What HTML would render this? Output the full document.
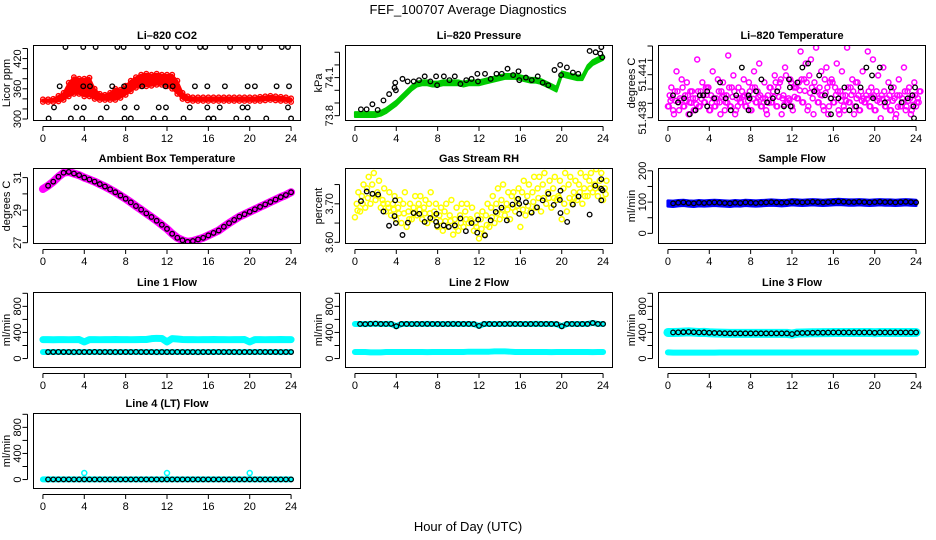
<!DOCTYPE html>
<html><head><meta charset="utf-8"><title>FEF_100707 Average Diagnostics</title>
<style>
html,body{margin:0;padding:0;background:#fff;}
svg{display:block;font-family:"Liberation Sans",Arial,sans-serif;}
</style></head>
<body>
<svg id="chart" width="936" height="540" viewBox="0 0 936 540" xmlns="http://www.w3.org/2000/svg">
<rect x="0" y="0" width="936" height="540" fill="#fff"/>
<text x="468" y="14" font-size="13" text-anchor="middle">FEF_100707  Average Diagnostics</text>
<text x="468" y="531" font-size="13" text-anchor="middle">Hour of Day (UTC)</text>
</svg>
<script>
// ---------- data ----------
const hourGrid = [0,0.5,1,1.5,2,2.5,3,3.5,4,4.5,5,5.5,6,6.5,7,7.5,8,8.5,9,9.5,10,10.5,11,11.5,12,12.5,13,13.5,14,14.5,15,15.5,16,16.5,17,17.5,18,18.5,19,19.5,20,20.5,21,21.5,22,22.5,23,23.5,24];
const xTicks = [0,4,8,12,16,20,24];

const co2Lo = [334,334,334,335,338,345,350,350,345,345,340,338,338,338,338,342,348,355,362,365,365,366,368,368,365,360,350,340,337,336,336,336,336,336,336,336,336,336,336,336,336,336,336,337,338,337,336,336,334];
const co2Hi = [339,339,340,346,352,372,383,380,380,382,360,350,348,352,360,358,366,376,383,388,390,388,390,388,388,388,376,352,345,343,343,343,343,343,343,343,343,343,343,343,343,343,344,345,346,345,344,343,341];
const co2BlackHours = [2.18,3.9,5.1,7.2,7.8,10.1,11.9,13.1,15.2,15.7,18.1,19.8,21.0,23.1,23.7,1.62,3.9,4.55,6.7,7.85,9.6,11.85,12.55,14.7,15.9,17.6,19.8,20.5,22.6,23.8,1.07,3.24,3.95,6.16,7.9,9.07,11.2,11.9,14.2,15.9,17.1,19.3,19.8,23.7,0.55,2.7,3.8,5.6,7.9,8.5,10.7,11.8,13.6,16.0,16.5,18.7,19.8,21.6,24.0];
const co2BlackValues = [443,443,443,443,443,443,443,443,443,443,443,443,443,443,443,365,365,365,365,365,365,365,365,365,365,365,365,365,365,365,323,323,323,323,323,323,323,323,323,323,323,323,323,323,301,301,301,301,301,301,301,301,301,301,301,301,301,301,301];

const pressureValues = [73.81,73.81,73.81,73.81,73.81,73.82,73.84,73.87,73.90,73.94,73.98,74.02,74.05,74.06,74.06,74.05,74.05,74.06,74.06,74.06,74.06,74.05,74.06,74.06,74.06,74.07,74.08,74.09,74.10,74.11,74.11,74.11,74.10,74.09,74.08,74.08,74.07,74.05,74.03,74.01,74.13,74.12,74.11,74.10,74.10,74.18,74.22,74.24,74.26];
const pressureBlackHours = [0.58,1.13,1.69,2.2,2.76,3.31,3.83,3.9,3.96,4.6,5.1,5.68,6.2,6.75,7.3,7.85,7.95,8.6,9.14,9.66,10.2,10.77,11.28,11.84,11.9,12.58,13.13,13.69,14.2,14.76,15.3,15.82,15.9,16.54,17.1,17.68,18.16,18.7,19.3,19.85,19.94,20.5,21.08,21.6,22.7,23.28,23.73,23.83,23.93];
const pressureBlackValues = [73.85,73.85,73.89,73.845,73.92,73.97,74.02,74.06,74.0,74.09,74.07,74.07,74.08,74.11,74.07,74.11,74.04,74.11,74.08,74.11,74.05,74.08,74.09,74.13,74.07,74.13,74.09,74.13,74.13,74.17,74.12,74.15,74.08,74.10,74.08,74.11,74.06,74.04,74.16,74.2,74.12,74.18,74.14,74.13,74.31,74.3,74.29,74.34,74.26];

const tempLow = [51.43879,51.43852,51.43907,51.43879,51.43824,51.43852,51.43879,51.43907,51.43852,51.43879,51.43907,51.43852,51.43879,51.43824,51.43907,51.43879,51.43852,51.43907,51.43879,51.43852,51.43907,51.43879,51.43824,51.43907,51.43879,51.43935,51.43907,51.43852,51.43935,51.43907,51.43879,51.43824,51.43907,51.43852,51.43879,51.43907,51.43824,51.43852,51.43907,51.43879,51.43852,51.43907,51.43879,51.43852,51.43796,51.43879,51.43852,51.43824,51.43879];
const tempMid = [51.43956,51.43984,51.43935,51.43956,51.43984,51.43935,51.43984,51.44011,51.43956,51.43935,51.43984,51.43956,51.44011,51.43935,51.43984,51.43956,51.44011,51.43984,51.43935,51.43956,51.43984,51.44011,51.43956,51.43935,51.44011,51.44046,51.44067,51.44095,51.44046,51.44011,51.44067,51.44046,51.44011,51.43984,51.43956,51.44011,51.44046,51.43984,51.43956,51.44011,51.43984,51.43956,51.43935,51.43984,51.43956,51.43935,51.43984,51.43956,51.43935];
const tempHigh = [51.44011,51.44123,51.44067,51.44046,51.43984,51.44206,51.44046,51.44011,51.44123,51.44067,51.44046,51.44234,51.44095,51.44011,51.44067,51.44046,51.44123,51.44178,51.44046,51.44011,51.44095,51.44046,51.44150,51.44067,51.44011,51.44262,51.44178,51.44206,51.44289,51.44123,51.44150,51.44067,51.44178,51.44123,51.44289,51.44067,51.44046,51.44123,51.44262,51.44206,51.44095,51.44150,51.44046,51.44011,51.44067,51.44150,51.44011,51.44046,51.43984];
const tempBlackHours = [0.49,0.98,1.56,2.11,2.67,3.09,3.41,3.8,3.8,4.49,5.04,5.59,6.08,6.6,7.15,7.8,7.8,7.9,8.52,9.04,9.59,10.15,10.57,11.22,11.71,11.8,11.87,12.52,13.0,13.56,14.15,14.63,15.19,15.77,15.77,16.49,17.07,17.56,18.21,18.63,19.19,19.84,19.74,20.49,20.98,21.56,22.6,23.19,23.64,23.74,23.9,23.8];
const tempBlackValues = [51.43956,51.43907,51.43935,51.43824,51.43852,51.43956,51.43956,51.43879,51.43984,51.43935,51.44046,51.43935,51.43852,51.43956,51.44150,51.43956,51.43852,51.43935,51.43984,51.44067,51.43907,51.43935,51.43984,51.43879,51.44067,51.44011,51.43879,51.44046,51.44150,51.44178,51.43984,51.44095,51.43956,51.43935,51.43824,51.43935,51.44011,51.43852,51.43879,51.44011,51.44150,51.43935,51.44095,51.44150,51.43907,51.44011,51.43907,51.43935,51.43956,51.43879,51.44011,51.43796];

const ambientValues = [30.3,30.5,30.75,31.05,31.3,31.35,31.25,31.15,31.0,30.88,30.75,30.6,30.45,30.28,30.1,29.9,29.7,29.48,29.25,29.03,28.8,28.58,28.35,28.1,27.85,27.55,27.3,27.15,27.05,27.1,27.2,27.3,27.45,27.6,27.75,27.98,28.2,28.4,28.6,28.75,28.9,29.05,29.2,29.35,29.5,29.65,29.8,29.93,30.1];

const rhLow = [3.665,3.68,3.69,3.70,3.71,3.69,3.68,3.67,3.66,3.65,3.64,3.66,3.67,3.66,3.65,3.66,3.64,3.63,3.64,3.62,3.63,3.64,3.65,3.63,3.61,3.62,3.64,3.65,3.66,3.67,3.66,3.68,3.64,3.67,3.68,3.69,3.68,3.70,3.69,3.71,3.66,3.68,3.70,3.71,3.70,3.72,3.73,3.72,3.71];
const rhMid = [3.70,3.72,3.74,3.75,3.73,3.71,3.70,3.70,3.69,3.70,3.68,3.69,3.70,3.69,3.70,3.68,3.67,3.68,3.67,3.66,3.67,3.68,3.66,3.65,3.66,3.67,3.69,3.70,3.71,3.70,3.72,3.71,3.73,3.72,3.73,3.74,3.75,3.73,3.74,3.72,3.74,3.75,3.73,3.75,3.74,3.76,3.75,3.76,3.74];
const rhHigh = [3.73,3.75,3.77,3.78,3.76,3.74,3.73,3.72,3.71,3.73,3.70,3.72,3.72,3.71,3.73,3.70,3.69,3.70,3.71,3.69,3.70,3.70,3.69,3.67,3.68,3.70,3.72,3.74,3.75,3.73,3.73,3.74,3.76,3.75,3.77,3.77,3.78,3.76,3.77,3.76,3.78,3.77,3.76,3.78,3.77,3.78,3.79,3.78,3.76];
const rhBlackHours = [0.59,1.14,1.69,2.24,2.76,3.3,3.83,3.96,3.89,4.6,5.12,5.67,6.22,6.74,7.29,7.85,7.88,7.94,8.59,9.08,9.66,10.2,10.73,11.28,11.83,11.93,12.58,13.13,13.62,14.17,14.69,15.24,15.79,15.89,15.89,16.54,17.09,17.61,18.16,18.71,19.23,19.82,19.88,19.88,20.53,21.08,21.63,22.7,23.25,23.83,23.83,23.83,23.95];
const rhBlackValues = [3.707,3.732,3.726,3.724,3.68,3.643,3.668,3.65,3.709,3.619,3.651,3.676,3.674,3.653,3.663,3.653,3.674,3.643,3.644,3.64,3.644,3.662,3.629,3.65,3.625,3.659,3.618,3.657,3.679,3.69,3.657,3.698,3.713,3.674,3.70,3.704,3.677,3.691,3.709,3.726,3.697,3.71,3.734,3.676,3.653,3.698,3.719,3.672,3.747,3.764,3.739,3.709,3.735];

const sampleFlow = [97,96,98,99,97,96,98,97,98,99,98,97,96,98,97,99,98,97,98,99,100,99,98,99,101,100,99,100,101,100,99,100,101,102,101,100,100,101,100,99,100,101,100,100,99,100,101,100,99];

const line1Upper = [290,290,288,290,290,289,290,291,255,290,290,289,290,290,291,290,290,289,290,291,292,305,310,308,255,306,300,292,290,290,289,290,290,291,290,290,289,290,290,291,255,290,290,289,290,290,291,290,290];
const line1Lower = [100,100,100,101,100,100,99,100,100,100,101,100,100,100,99,100,100,100,101,100,100,100,99,100,100,100,101,100,100,100,99,100,100,100,101,100,100,100,99,100,100,100,101,100,100,100,99,100,100];
const line2Upper = [530,530,528,532,534,530,530,531,495,530,530,529,530,530,531,530,530,529,530,531,530,530,530,528,500,530,530,529,530,530,531,530,530,529,530,531,530,530,530,528,495,530,530,529,530,530,545,530,530];
const line2Lower = [100,100,100,95,95,95,100,100,100,100,101,100,100,100,99,100,100,100,101,100,100,100,105,105,105,105,105,110,110,110,105,100,100,100,101,100,100,100,99,100,100,100,101,100,100,100,99,100,100];
const line3Upper = [400,400,402,405,408,404,400,401,395,392,390,388,386,386,386,386,386,386,386,386,386,386,386,386,375,390,392,393,395,396,397,398,400,400,400,400,400,400,400,400,395,400,400,400,400,400,400,400,400];
const line3Lower = [95,90,90,90,90,90,90,90,90,90,92,92,92,92,92,92,92,92,92,92,92,92,92,92,92,92,92,92,92,92,92,92,92,92,92,92,92,92,92,92,92,92,92,92,92,92,92,92,92];
const line4Values = [2,2,2,2,2,2,2,2,2,2,2,2,2,2,2,2,2,2,2,2,2,2,2,2,2,2,2,2,2,2,2,2,2,2,2,2,2,2,2,2,2,2,2,2,2,2,2,2,2];
const line4SpikeHours = [4,12,20];
const line4SpikeValues = [100,100,100];

// ---------- rendering ----------
const NS = 'http://www.w3.org/2000/svg';
const svg = document.getElementById('chart');
const COLS = [33,345,658], ROWS = [45,168,292,413], W = 268, H = 76;
const XMIN = -0.96, XMAX = 24.96;

function mk(tag, attrs, parent) {
  const e = document.createElementNS(NS, tag);
  for (const k in attrs) e.setAttribute(k, attrs[k]);
  parent.appendChild(e);
  return e;
}

function makePanel(cfg) {
  const left = COLS[cfg.col], top = ROWS[cfg.row];
  const g = mk('g', {}, svg);
  
  
  const xs = h => left + (h - XMIN) / (XMAX - XMIN) * W;
  const ys = v => top + H - (v - cfg.ylim[0]) / (cfg.ylim[1] - cfg.ylim[0]) * H;
  const t = mk('text', {x: left + W / 2, y: top - 6, 'font-size': 11, 'font-weight': 'bold', 'text-anchor': 'middle'}, g);
  t.textContent = cfg.title;
  
  
  const clip = mk('clipPath', {id: 'clip-' + cfg.name}, g);
  mk('rect', {x: left, y: top, width: W, height: H}, clip);
  const plot = mk('g', {'clip-path': 'url(#clip-' + cfg.name + ')'}, g);
  
  
  const box = mk('rect', {x: left + 0.5, y: top + 0.5, width: W - 1, height: H - 1, fill: 'none', stroke: '#000', 'stroke-width': 1}, g);
  
  
  const xa = mk('g', {}, g);
  
  
  mk('line', {x1: xs(xTicks[0]), x2: xs(xTicks[xTicks.length - 1]), y1: top + H + 5.5, y2: top + H + 5.5, stroke: '#000'}, xa);
  xTicks.forEach(v => {
    mk('line', {x1: xs(v), x2: xs(v), y1: top + H + 5.5, y2: top + H + 10, stroke: '#000'}, xa);
    const lb = mk('text', {x: xs(v), y: top + H + 21, 'font-size': 11, 'text-anchor': 'middle'}, xa);
    lb.textContent = String(v);
    
    
  });
  const ya = mk('g', {}, g);
  
  
  const ax = left - 5.5;
  mk('line', {x1: ax, x2: ax, y1: ys(cfg.yticks[0]), y2: ys(cfg.yticks[cfg.yticks.length - 1]), stroke: '#000'}, ya);
  cfg.yticks.forEach(v => {
    mk('line', {x1: ax - 5, x2: ax, y1: ys(v), y2: ys(v), stroke: '#000'}, ya);
  });
  cfg.ylabels.forEach((v, i) => {
    const yy = ys(v), xx = left - 15;
    const lb = mk('text', {x: xx, y: yy, 'font-size': 11, 'text-anchor': 'middle', 'dominant-baseline': 'central', transform: 'rotate(-90 ' + xx + ' ' + yy + ')'}, ya);
    lb.textContent = cfg.ylabelText[i];
    
    
  });
  const yt = mk('text', {x: left - 26, y: top + H / 2, 'font-size': 11, 'text-anchor': 'middle', 'dominant-baseline': 'central', transform: 'rotate(-90 ' + (left - 26) + ' ' + (top + H / 2) + ')'}, g);
  yt.textContent = cfg.ytitle;
  
  
  return {plot, xs, ys, name: cfg.name};
}

function dots(p, hours, vals, color, r, sw, nm) {
  const g = mk('g', {fill: 'none', stroke: color, 'stroke-width': sw}, p.plot);
  
  
  hours.forEach((h, i) => {
    const c = mk('circle', {cx: p.xs(h), cy: p.ys(vals[i]), r: r}, g);
    
    
  });
}
function band(p, hours, lo, hi, color, nm, sw) {
  let pts = hours.map((h, i) => p.xs(h) + ',' + p.ys(hi[i]));
  pts = pts.concat(hours.map((h, i) => p.xs(h) + ',' + p.ys(lo[i])).reverse());
  const poly = mk('polygon', {points: pts.join(' '), fill: color, stroke: color, 'stroke-width': sw, 'stroke-linejoin': 'round'}, p.plot);
  
  
}
function thick(p, hours, vals, color, width, nm) {
  const pl = mk('polyline', {points: hours.map((h, i) => p.xs(h) + ',' + p.ys(vals[i])).join(' '), fill: 'none', stroke: color, 'stroke-width': width, 'stroke-linecap': 'round', 'stroke-linejoin': 'round'}, p.plot);
  
  
}
function offsetBand(p, hours, vals, dlo, dhi, color, nm, sw) {
  band(p, hours, vals.map(v => v - dlo), vals.map(v => v + dhi), color, nm, sw);
}

const flowTicks = [0,200,400,600,800,1000];
const flowLabels = [0,400,800];
const flowLabelText = ['0','400','800'];

const p1 = makePanel({name: 'co2', col: 0, row: 0, title: 'Li\u2013820 CO2', ytitle: 'Licor ppm', ylim: [296,447], yticks: [300,320,340,360,380,400,420,440], ylabels: [300,360,420], ylabelText: ['300','360','420']});
band(p1, hourGrid, co2Lo, co2Hi, '#ff0000', 'co2-red-band', 2);
dots(p1, hourGrid, co2Hi, '#ff0000', 2.3, 1.4, 'co2-red-upper');
dots(p1, hourGrid, co2Lo, '#ff0000', 2.3, 1.4, 'co2-red-lower');
dots(p1, co2BlackHours, co2BlackValues, '#000', 2.3, 1.3, 'co2-black-series');

const p2 = makePanel({name: 'pressure', col: 1, row: 0, title: 'Li\u2013820 Pressure', ytitle: 'kPa', ylim: [73.758,74.357], yticks: [73.8,73.9,74.0,74.1,74.2,74.3], ylabels: [73.8,74.1], ylabelText: ['73.8','74.1']});
offsetBand(p2, hourGrid, pressureValues, 0.02, 0.018, '#00cc00', 'pressure-green-band', 2);
dots(p2, pressureBlackHours, pressureBlackValues, '#000', 2.3, 1.3, 'pressure-black-series');

const p3 = makePanel({name: 'li820-temperature', col: 2, row: 0, title: 'Li\u2013820 Temperature', ytitle: 'degrees C', ylim: [51.43777,51.44307], yticks: [51.438,51.439,51.440,51.441,51.442,51.443], ylabels: [51.438,51.441], ylabelText: ['51.438','51.441']});
dots(p3, hourGrid, tempLow, '#ff00ff', 2.5, 1.5, 'temp-magenta-low');
dots(p3, hourGrid.map(h => h + 0.17), tempMid, '#ff00ff', 2.5, 1.5, 'temp-magenta-mid');
dots(p3, hourGrid.map(h => h + 0.33), tempHigh, '#ff00ff', 2.5, 1.5, 'temp-magenta-high');
dots(p3, hourGrid.map(h => h + 0.25), tempMid.map((v, i) => (v + tempLow[i]) / 2), '#ff00ff', 2.5, 1.5, 'temp-magenta-between');
dots(p3, hourGrid.map(h => h + 0.08), tempMid.map((v, i) => tempLow[(i + 3) % tempLow.length]), '#ff00ff', 2.5, 1.5, 'temp-magenta-extra-low');
dots(p3, hourGrid.map(h => h + 0.42), tempMid.map((v, i) => tempMid[(i + 5) % tempMid.length]), '#ff00ff', 2.5, 1.5, 'temp-magenta-extra-mid');
dots(p3, tempBlackHours, tempBlackValues, '#000', 2.3, 1.3, 'temp-black-series');

const p4 = makePanel({name: 'ambient-box-temperature', col: 0, row: 1, title: 'Ambient Box Temperature', ytitle: 'degrees C', ylim: [26.92,31.59], yticks: [27,28,29,30,31], ylabels: [27,29,31], ylabelText: ['27','29','31']});
thick(p4, hourGrid, ambientValues, '#ff00ff', 8, 'ambient-magenta-line');
dots(p4, hourGrid.slice(1), ambientValues.slice(1), '#000', 2.3, 1.3, 'ambient-black-series');

const p5 = makePanel({name: 'gas-stream-rh', col: 1, row: 1, title: 'Gas Stream RH', ytitle: 'percent', ylim: [3.5956,3.793], yticks: [3.60,3.65,3.70,3.75], ylabels: [3.60,3.70], ylabelText: ['3.60','3.70']});
dots(p5, hourGrid, rhLow, '#ffff00', 2.5, 1.5, 'rh-yellow-low');
dots(p5, hourGrid.map(h => h + 0.17), rhMid, '#ffff00', 2.5, 1.5, 'rh-yellow-mid');
dots(p5, hourGrid.map(h => h + 0.33), rhHigh, '#ffff00', 2.5, 1.5, 'rh-yellow-high');
dots(p5, hourGrid.map(h => h + 0.25), rhMid.map((v, i) => (v + rhLow[i]) / 2), '#ffff00', 2.5, 1.5, 'rh-yellow-between');
dots(p5, rhBlackHours, rhBlackValues, '#000', 2.3, 1.3, 'rh-black-series');

const p6 = makePanel({name: 'sample-flow', col: 2, row: 1, title: 'Sample Flow', ytitle: 'ml/min', ylim: [-34,209], yticks: [0,50,100,150,200], ylabels: [0,100,200], ylabelText: ['0','100','200']});
offsetBand(p6, hourGrid, sampleFlow, 10, 7, '#0000ff', 'sample-flow-blue-band', 3);
dots(p6, hourGrid.slice(1), sampleFlow.slice(1), '#000', 2.3, 1.3, 'sample-flow-black-series');

const p7 = makePanel({name: 'line-1-flow', col: 0, row: 2, title: 'Line 1 Flow', ytitle: 'ml/min', ylim: [-145,1020], yticks: flowTicks, ylabels: flowLabels, ylabelText: flowLabelText});
thick(p7, hourGrid, line1Upper, '#00ffff', 7, 'line-1-cyan-upper');
thick(p7, hourGrid, line1Lower, '#00ffff', 6, 'line-1-cyan-lower');
dots(p7, hourGrid.slice(1), line1Lower.slice(1), '#000', 2.3, 1.3, 'line-1-black-series');

const p8 = makePanel({name: 'line-2-flow', col: 1, row: 2, title: 'Line 2 Flow', ytitle: 'ml/min', ylim: [-145,1020], yticks: flowTicks, ylabels: flowLabels, ylabelText: flowLabelText});
thick(p8, hourGrid, line2Upper, '#00ffff', 6, 'line-2-cyan-upper');
thick(p8, hourGrid, line2Lower, '#00ffff', 6, 'line-2-cyan-lower');
dots(p8, hourGrid.slice(1), line2Upper.slice(1), '#000', 2.3, 1.3, 'line-2-black-series');

const p9 = makePanel({name: 'line-3-flow', col: 2, row: 2, title: 'Line 3 Flow', ytitle: 'ml/min', ylim: [-145,1020], yticks: flowTicks, ylabels: flowLabels, ylabelText: flowLabelText});
thick(p9, hourGrid, line3Upper, '#00ffff', 9, 'line-3-cyan-upper');
thick(p9, hourGrid, line3Lower, '#00ffff', 6, 'line-3-cyan-lower');
dots(p9, hourGrid.slice(1), line3Upper.slice(1), '#000', 2.3, 1.3, 'line-3-black-series');

const p10 = makePanel({name: 'line-4-lt-flow', col: 0, row: 3, title: 'Line 4 (LT) Flow', ytitle: 'ml/min', ylim: [-145,1020], yticks: flowTicks, ylabels: flowLabels, ylabelText: flowLabelText});
thick(p10, hourGrid, line4Values, '#00ffff', 6, 'line-4-cyan-line');
dots(p10, line4SpikeHours, line4SpikeValues, '#00ffff', 2.5, 1.5, 'line-4-cyan-spikes');
dots(p10, hourGrid.slice(1), line4Values.slice(1), '#000', 2.3, 1.3, 'line-4-black-series');
</script>
</body></html>
